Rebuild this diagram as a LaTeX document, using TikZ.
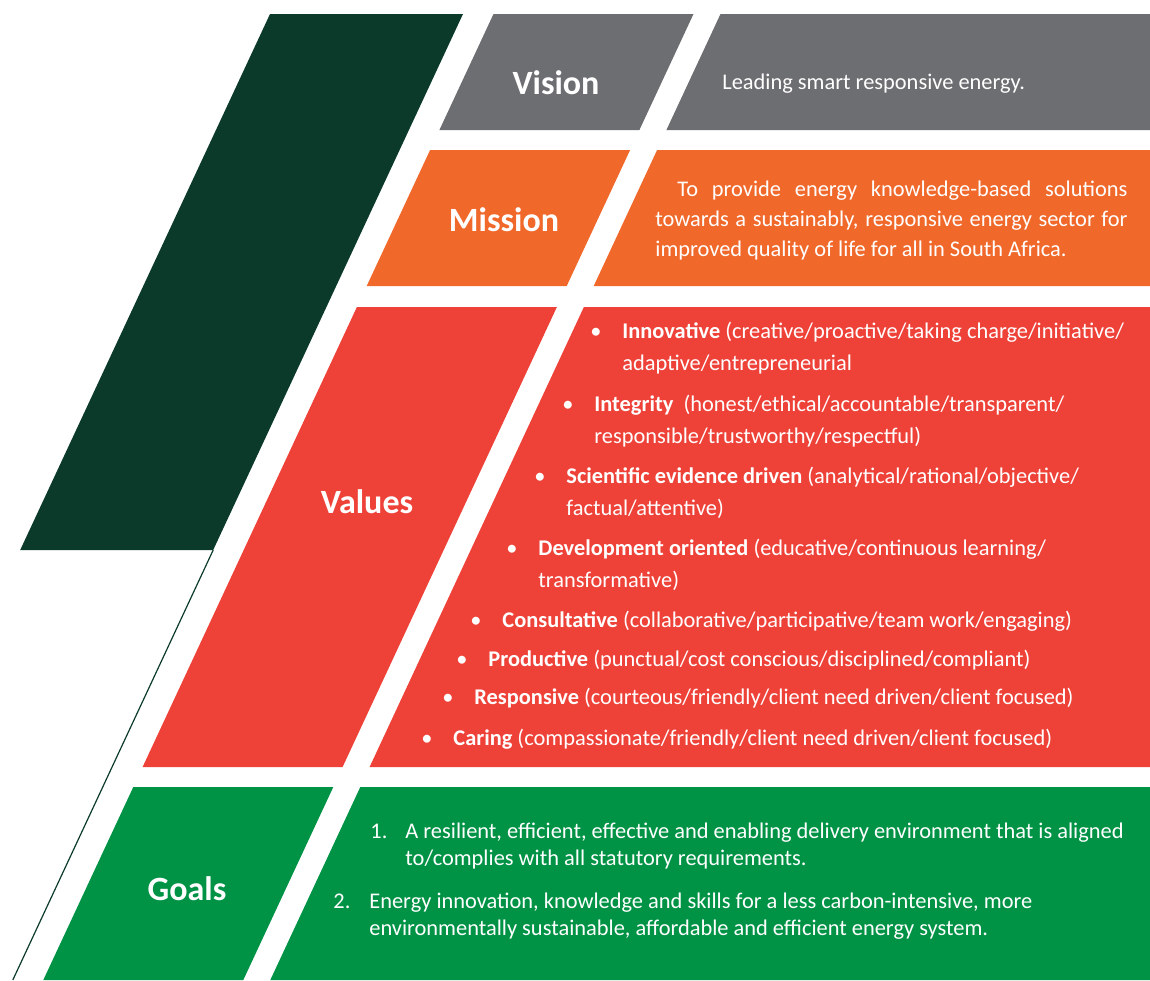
\documentclass[tikz,border=0pt]{standalone}
\usepackage{fontspec}
\setmainfont{Carlito}
\definecolor{sanedidark}{HTML}{0B3A2B}
\definecolor{sanedigray}{HTML}{6D6E71}
\definecolor{sanediorange}{HTML}{F0682A}
\definecolor{sanedired}{HTML}{EE4239}
\definecolor{sanedigreen}{HTML}{009345}
\tikzset{
  heading/.style={font=\fontsize{17}{20}\selectfont\bfseries, text=white, inner sep=0},
  bodytext/.style={font=\fontsize{11.2}{16}\selectfont, text=white, inner sep=0, anchor=base west},
}

\begin{document}
\begin{tikzpicture}[x=0.5pt, y=-0.5pt]
\useasboundingbox (0,0) rectangle (1150,980);

% Dark bar and thin line
\fill[sanedidark] (270,14) -- (463,14) -- (213.2,550) -- (20.2,550) -- cycle;
\draw[sanedidark, line width=0.6pt] (213.2,550) -- (12.8,980);

% Vision
\fill[sanedigray] (493.5,14) -- (693.5,14) -- (639.4,130) -- (439.4,130) -- cycle;
\fill[sanedigray] (720.5,14) -- (1150,14) -- (1150,130) -- (666.4,130) -- cycle;
\node[heading] (vision) at (556,83) {Vision};
\node[bodytext] (visiontext) at (722,89) {Leading smart responsive energy.};

% Mission
\fill[sanediorange] (430.1,150) -- (630.1,150) -- (566.7,286) -- (366.7,286) -- cycle;
\fill[sanediorange] (657.1,150) -- (1150,150) -- (1150,286) -- (593.7,286) -- cycle;
\node[heading] (mission) at (504,220) {Mission};
\node[bodytext, font=\fontsize{11.2}{15}\selectfont] (missiontext) at (655,196)
  {\parbox[t]{236pt}{\hspace*{11pt}To provide energy knowledge-based solutions\linebreak
   towards a sustainably, responsive energy sector for\linebreak
   improved quality of life for all in South Africa.}};

% Values
\fill[sanedired] (356.9,307) -- (556.9,307) -- (342.6,767) -- (142.6,767) -- cycle;
\fill[sanedired] (583.9,307) -- (1150,307) -- (1150,767) -- (369.6,767) -- cycle;
\node[heading] (values) at (367,502) {Values};
\node[bodytext] (innovative) at (590,338) {\begin{tabular}[t]{@{}l@{}l@{}}
  \makebox[16pt][l]{\textbullet} & \textbf{Innovative} (creative/proactive/taking charge/initiative/\\
  & adaptive/entrepreneurial
  \end{tabular}};
\node[bodytext] (integrity) at (562,411) {\begin{tabular}[t]{@{}l@{}l@{}}
  \makebox[16pt][l]{\textbullet} & \textbf{Integrity}\ \ (honest/ethical/accountable/transparent/\\
  & responsible/trustworthy/respectful)
  \end{tabular}};
\node[bodytext] (scientific) at (534,483) {\begin{tabular}[t]{@{}l@{}l@{}}
  \makebox[16pt][l]{\textbullet} & \textbf{Scientific evidence driven} (analytical/rational/objective/\\
  & factual/attentive)
  \end{tabular}};
\node[bodytext] (development) at (506,555) {\begin{tabular}[t]{@{}l@{}l@{}}
  \makebox[16pt][l]{\textbullet} & \textbf{Development oriented} (educative/continuous learning/\\
  & transformative)
  \end{tabular}};
\node[bodytext] (consultative) at (470,627)
  {\makebox[16pt][l]{\textbullet}\textbf{Consultative} (collaborative/participative/team work/engaging)};
\node[bodytext] (productive) at (456,666)
  {\makebox[16pt][l]{\textbullet}\textbf{Productive} (punctual/cost conscious/disciplined/compliant)};
\node[bodytext] (responsive) at (442,704)
  {\makebox[16pt][l]{\textbullet}\textbf{Responsive} (courteous/friendly/client need driven/client focused)};
\node[bodytext] (caring) at (421,745)
  {\makebox[16pt][l]{\textbullet}\textbf{Caring} (compassionate/friendly/client need driven/client focused)};

% Goals
\fill[sanedigreen] (133.3,787) -- (333.3,787) -- (243.3,980) -- (43.3,980) -- cycle;
\fill[sanedigreen] (360.3,787) -- (1150,787) -- (1150,980) -- (270.3,980) -- cycle;
\node[heading] (goals) at (187,889) {Goals};
\node[bodytext, font=\fontsize{11.2}{13.5}\selectfont] (goalone) at (370,838) {\begin{tabular}[t]{@{}l@{}l@{}}
  \makebox[17.5pt][l]{1.} & A resilient, efficient, effective and enabling delivery environment that is aligned\\
  & to/complies with all statutory requirements.
  \end{tabular}};
\node[bodytext, font=\fontsize{11.2}{13.5}\selectfont] (goaltwo) at (333,908) {\begin{tabular}[t]{@{}l@{}l@{}}
  \makebox[18pt][l]{2.} & Energy innovation, knowledge and skills for a less carbon-intensive, more\\
  & environmentally sustainable, affordable and efficient energy system.
  \end{tabular}};
\end{tikzpicture}
\end{document}
